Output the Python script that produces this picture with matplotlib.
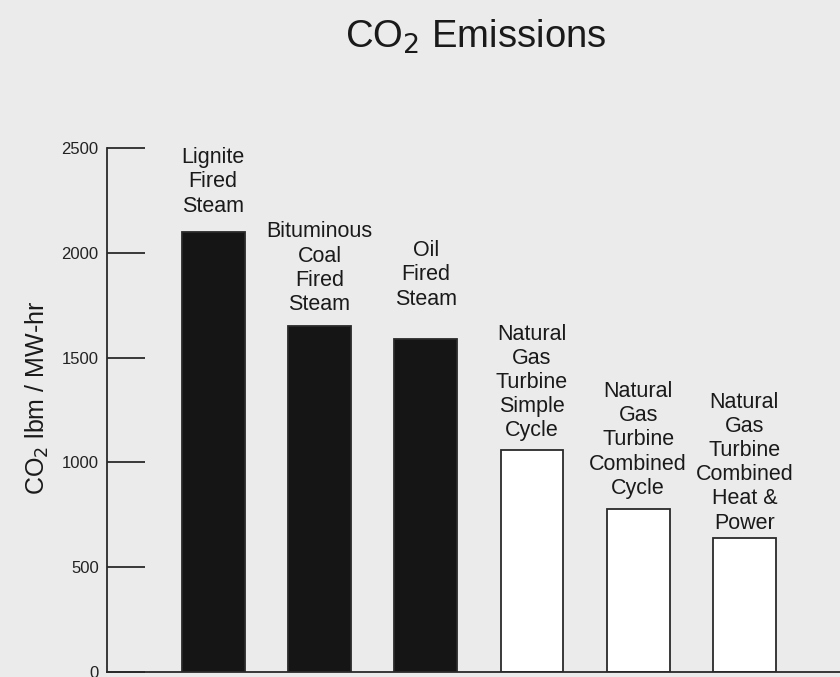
import matplotlib
matplotlib.use("Agg")
import matplotlib.pyplot as plt

# Data
categories = [
    "Lignite\nFired\nSteam",
    "Bituminous\nCoal\nFired\nSteam",
    "Oil\nFired\nSteam",
    "Natural\nGas\nTurbine\nSimple\nCycle",
    "Natural\nGas\nTurbine\nCombined\nCycle",
    "Natural\nGas\nTurbine\nCombined\nHeat &\nPower",
]
emissions = [2100, 1650, 1590, 1060, 780, 640]
filled = [True, True, True, False, False, False]
yticks = [0, 500, 1000, 1500, 2000, 2500]

# gap (points) between bar top and its label, as in the original layout
label_gap = [11, 8, 21, 6, 7, 3]

plt.rcParams["font.family"] = ["Liberation Sans", "DejaVu Sans"]

bg = "#ebebeb"
fig = plt.figure(figsize=(8.4, 6.77), dpi=100, facecolor=bg)
ax = fig.add_axes([0.1274, 0.0074, 0.8726, 0.774], facecolor=bg)

x = list(range(len(emissions)))
colors = ["#151515" if f else "white" for f in filled]
ax.bar(x, emissions, width=0.59, color=colors, edgecolor="#2a2a2a", linewidth=1.3)

for xi, val, lab, gap in zip(x, emissions, categories, label_gap):
    ax.annotate(lab, (xi, val), xytext=(0, gap), textcoords="offset points",
                ha="center", va="bottom", fontsize=15.5, color="#1a1a1a",
                linespacing=1.2)

ax.set_xlim(-1.0, 5.9)
ax.set_ylim(0, 2500)
ax.set_yticks(yticks)
ax.set_xticks([])
ax.tick_params(axis="y", direction="in", length=27, width=1.3, color="#2a2a2a",
               pad=6, labelsize=12, labelcolor="#222222")
for s in ["top", "right"]:
    ax.spines[s].set_visible(False)
for s in ["left", "bottom"]:
    ax.spines[s].set_color("#2a2a2a")
    ax.spines[s].set_linewidth(1.3)

ax.set_ylabel("CO$_2$ lbm / MW-hr", fontsize=18, color="#1a1a1a")
ax.yaxis.set_label_coords(-0.077, 0.523)
fig.text(0.566, 0.946, "CO$_2$ Emissions", ha="center", va="center",
         fontsize=27.5, color="#1a1a1a")

fig.savefig("out.png", dpi=100, facecolor=bg)
